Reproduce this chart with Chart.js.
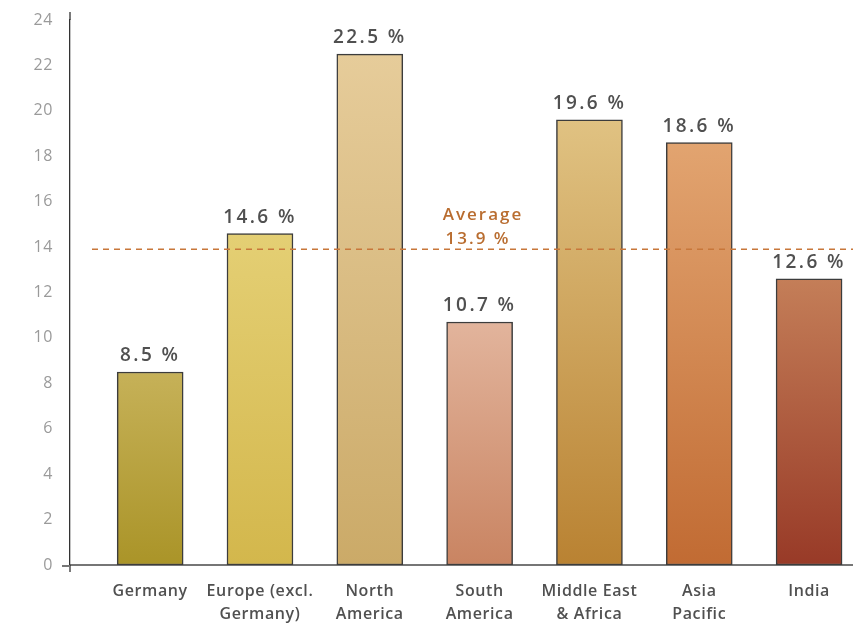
<!DOCTYPE html>
<html>
<head>
<meta charset="utf-8">
<script src="https://cdn.jsdelivr.net/npm/chart.js@4/dist/chart.umd.min.js"></script>
<style>
    html, body { margin: 0; padding: 0; background: #fff; }
    #wrap { width: 853px; height: 624px; position: relative; }
</style>
</head>
<body>
<div id="wrap"><canvas id="chart"></canvas></div>
<script>
// regional shares
const categories = [
    'Germany',
    ['Europe (excl.', 'Germany)'],
    ['North', 'America'],
    ['South', 'America'],
    ['Middle East', '& Africa'],
    ['Asia', 'Pacific'],
    'India'
];
const shares = [8.5, 14.6, 22.5, 10.7, 19.6, 18.6, 12.6];
const average = 13.9;
const yTickValues = [0, 2, 4, 6, 8, 10, 12, 14, 16, 18, 20, 22, 24];

// top / bottom colour of each bar
const barTop = ['#c6b158', '#e4cf74', '#e6cc9a', '#e2b49c', '#e0c282', '#e2a470', '#c47e58'];
const barBottom = ['#aa9428', '#d3b74c', '#cbaa68', '#c98462', '#b98232', '#c16b33', '#983a27'];

const FONT = '"Open Sans", "DejaVu Sans", sans-serif';

function barFill(context) {
    const chart = context.chart;
    const i = context.dataIndex;
    if (!chart.chartArea) return barTop[i];
    const y = chart.scales.y;
    const g = chart.ctx.createLinearGradient(0, y.getPixelForValue(shares[i]), 0, y.getPixelForValue(0));
    g.addColorStop(0, barTop[i]);
    g.addColorStop(1, barBottom[i]);
    return g;
}

const framePlugin = {
    id: 'frame',
    afterLayout(chart) {
        // pin the top of the plot to 20px
        const y = chart.scales.y;
        const top = 20;
        chart.chartArea.top = top;
        chart.chartArea.height = chart.chartArea.bottom - top;
        y.top = top;
        y.height = y.bottom - top;
        y.configure();
    },
    beforeDraw(chart) { chart.ctx.letterSpacing = '0.6px'; },
    afterDraw(chart) {
        const ctx = chart.ctx;
        const a = chart.chartArea;
        ctx.save();
        ctx.lineWidth = 1.3;
        ctx.strokeStyle = '#333';
        ctx.beginPath();
        ctx.moveTo(a.left, a.top - 8);
        ctx.lineTo(a.left, a.top);
        ctx.moveTo(a.left, a.bottom);
        ctx.lineTo(a.left, a.bottom + 7);
        ctx.stroke();
        ctx.lineWidth = 2;
        ctx.strokeStyle = '#767676';
        ctx.beginPath();
        ctx.moveTo(a.left - 8, a.bottom + 1);
        ctx.lineTo(a.left, a.bottom + 1);
        ctx.stroke();
        ctx.restore();
    }
};

const labelsPlugin = {
    id: 'valueLabels',
    afterDatasetsDraw(chart) {
        const ctx = chart.ctx;
        const meta = chart.getDatasetMeta(0);
        const y = chart.scales.y;
        ctx.save();
        ctx.letterSpacing = '2px';

        // average line
        const ay = y.getPixelForValue(average);
        ctx.strokeStyle = '#c8773a';
        ctx.lineWidth = 1.5;
        ctx.setLineDash([6, 5]);
        ctx.beginPath();
        ctx.moveTo(92, ay);
        ctx.lineTo(chart.chartArea.right, ay);
        ctx.stroke();
        ctx.setLineDash([]);

        ctx.fillStyle = '#b96d30';
        ctx.font = '600 17px ' + FONT;
        ctx.textAlign = 'center';
        ctx.textBaseline = 'middle';
        ctx.fillText('Average', 483, ay - 34);
        ctx.fillText(average.toFixed(1) + ' %', 478, ay - 10);

        // value labels
        ctx.fillStyle = '#505050';
        ctx.font = '600 19px ' + FONT;
        ctx.letterSpacing = '2.4px';
        meta.data.forEach((bar, i) => {
            ctx.fillText(shares[i].toFixed(1) + ' %', bar.x, bar.y - 16);
        });
        ctx.restore();
    }
};

new Chart(document.getElementById('chart'), {
    type: 'bar',
    data: {
        datasets: [{
            data: shares.map((v, i) => ({ x: i, y: v })),
            backgroundColor: barFill,
            borderColor: '#3c3c3c',
            borderWidth: 1.5,
            borderSkipped: false,
            barThickness: 66
        }]
    },
    plugins: [framePlugin, labelsPlugin],
    options: {
        responsive: true,
        maintainAspectRatio: false,
        animation: false,
        events: [],
        layout: { padding: { top: 14, right: 0, left: 0, bottom: 0 } },
        plugins: {
            legend: { display: false },
            tooltip: { enabled: false }
        },
        scales: {
            x: {
                type: 'linear',
                offset: false,
                min: -0.73,
                max: 6.4,
                afterBuildTicks: s => { s.ticks = categories.map((_, i) => ({ value: i })); },
                afterFit: s => { s.height = 59; },
                grid: { display: false, drawTicks: false, offset: false },
                border: { display: true, color: '#767676', width: 2 },
                ticks: {
                    autoSkip: false,
                    maxRotation: 0,
                    padding: 15,
                    color: '#505050',
                    font: { family: FONT, size: 16, weight: '600', lineHeight: 1.45 },
                    callback: v => categories[v]
                }
            },
            y: {
                min: 0,
                max: 24,
                afterBuildTicks: s => { s.ticks = yTickValues.map(v => ({ value: v })); },
                afterFit: s => { s.width = 70; },
                grid: { display: false, drawTicks: false },
                border: { display: true, color: '#333', width: 1.3 },
                ticks: {
                    padding: 17,
                    color: '#9a9a9a',
                    font: { family: FONT, size: 16 }
                }
            }
        }
    }
});
</script>
</body>
</html>
